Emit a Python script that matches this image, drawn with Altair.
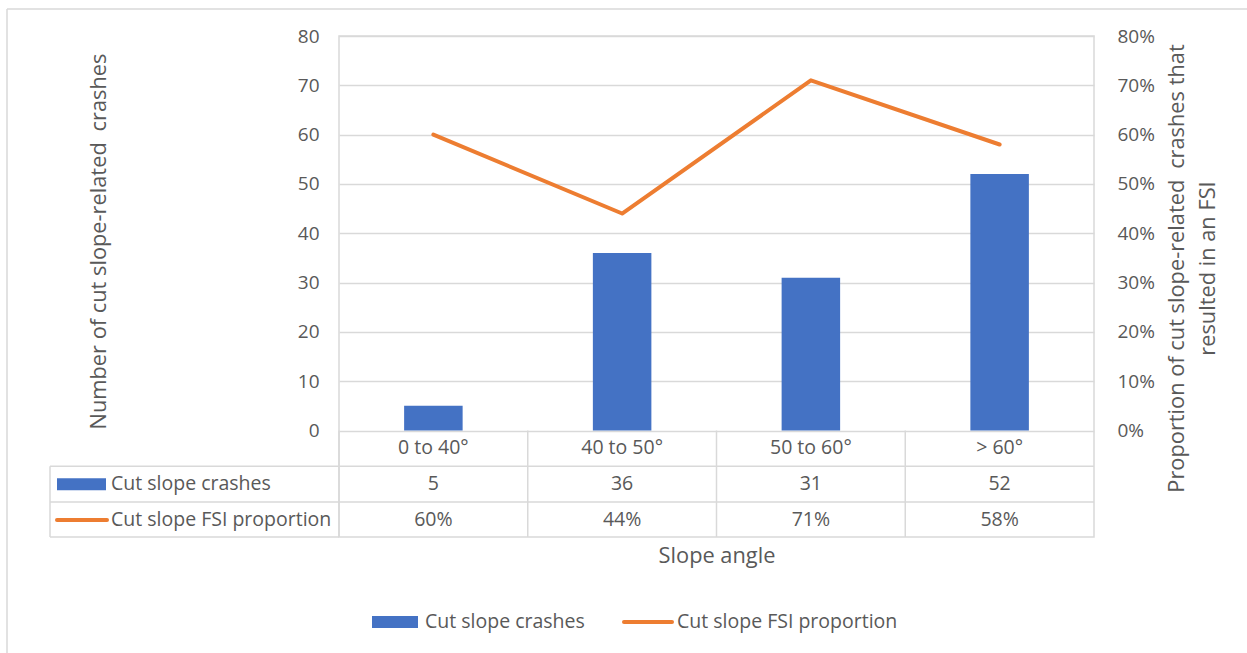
import altair as alt
import pandas as pd

# Chart values
CATEGORIES = ["0 to 40°", "40 to 50°", "50 to 60°", "> 60°"]
CRASHES = [5, 36, 31, 52]
FSI_PROPORTION = [0.60, 0.44, 0.71, 0.58]
SERIES_NAMES = ["Cut slope crashes", "Cut slope FSI proportion"]

FONT = "Open Sans"
TEXT = "#595959"
GRID = "#d9d9d9"
BLUE = "#4472c4"
ORANGE = "#ed7d31"
TITLE_SIZE = 21.8
BODY_SIZE = 19.5

# Plot-area geometry (the data table sits inside the lower part of the plot area)
W, H = 755, 501
ZERO_PX = 394.5            # distance of the zero line from the top of the plot area
ROW_H = 35.8               # height of one data-table row
COUNT_MAX = 80
COUNT_MIN = -COUNT_MAX * (H - ZERO_PX) / ZERO_PX
PCT_MAX = 0.8
PCT_MIN = COUNT_MIN / COUNT_MAX * PCT_MAX
LEFT_COL = -289            # left edge of the row-label column, relative to the plot area

df = pd.DataFrame({"angle": CATEGORIES, "crashes": CRASHES, "fsi": FSI_PROPORTION})
df["crash_label"] = df["crashes"].astype(str)
df["fsi_label"] = [f"{round(v * 100)}%" for v in FSI_PROPORTION]
one = pd.DataFrame({"k": [0]})

x_axis = alt.Axis(
    title="Slope angle", labels=False, ticks=False, domain=False, grid=False,
    titlePadding=8, titleFontSize=TITLE_SIZE, titleColor=TEXT, titleFont=FONT,
    titleFontWeight="normal",
)
x_scale = alt.Scale(paddingInner=0, paddingOuter=0)
x_enc = alt.X("angle:N", sort=CATEGORIES, scale=x_scale, axis=x_axis)

left_axis = alt.Axis(
    values=list(range(0, 81, 10)), title="Number of cut slope-related\u2002crashes",
    grid=True, gridColor=GRID, gridWidth=1.5, domain=False, ticks=False,
    labelPadding=20, labelFontSize=19, labelColor=TEXT, labelFont=FONT,
    titleFontSize=TITLE_SIZE, titleColor=TEXT, titleFont=FONT, titleFontWeight="normal",
    titleAngle=270, titleX=-241, titleY=205, titleBaseline="middle", titleAlign="center",
)

right_axis = alt.Axis(
    values=[i / 10 for i in range(0, 9)], format=".0%", orient="right",
    title=["Proportion of cut slope-related\u2002crashes that", "resulted in an FSI"],
    grid=False, domain=False, ticks=False,
    labelPadding=23, labelFontSize=19, labelColor=TEXT, labelFont=FONT,
    titleFontSize=TITLE_SIZE, titleColor=TEXT, titleFont=FONT, titleFontWeight="normal",
    titleAngle=270, titleX=72, titleY=232, titleBaseline="top", titleAlign="center",
    titleLineHeight=31,
)

base = alt.Chart(df)

bars = base.mark_bar(color=BLUE, width=alt.RelativeBandSize(0.31)).encode(
    x=x_enc,
    y=alt.Y("crashes:Q", scale=alt.Scale(domain=[COUNT_MIN, COUNT_MAX], nice=False, zero=False), axis=left_axis),
)

# Data table: category row, value rows and their grid
txt = dict(font=FONT, fontSize=BODY_SIZE, color=TEXT, baseline="middle")
cat_row = base.mark_text(**txt).encode(x=x_enc, y=alt.value(ZERO_PX + ROW_H / 2), text="angle:N")
crash_row = base.mark_text(**txt).encode(x=x_enc, y=alt.value(ZERO_PX + ROW_H * 1.5), text="crash_label:N")
fsi_row = base.mark_text(**txt).encode(x=x_enc, y=alt.value(ZERO_PX + ROW_H * 2.5), text="fsi_label:N")

sep = base.mark_rule(color=GRID, strokeWidth=1.5).encode(
    x=alt.X("angle:N", sort=CATEGORIES, bandPosition=0, scale=x_scale, axis=x_axis),
    y=alt.value(ZERO_PX), y2=alt.value(H),
)

def hline(y, x0, x1):
    return alt.Chart(one).mark_rule(color=GRID, strokeWidth=1.5).encode(
        x=alt.value(x0), x2=alt.value(x1), y=alt.value(y))

def vline(x, y0, y1, color=GRID, width=1.5):
    return alt.Chart(one).mark_rule(color=color, strokeWidth=width).encode(
        x=alt.value(x), y=alt.value(y0), y2=alt.value(y1))

table_lines = [
    hline(ZERO_PX + ROW_H, LEFT_COL, W),
    hline(ZERO_PX + ROW_H * 2, LEFT_COL, W),
    hline(H, LEFT_COL, 0),
    vline(LEFT_COL, ZERO_PX + ROW_H, H),
]

# Row labels with series keys
key_bar = alt.Chart(one).mark_rect(color=BLUE).encode(
    x=alt.value(-282), x2=alt.value(-233),
    y=alt.value(ZERO_PX + ROW_H * 1.5 - 6), y2=alt.value(ZERO_PX + ROW_H * 1.5 + 6))
key_line = alt.Chart(one).mark_rule(color=ORANGE, strokeWidth=4, strokeCap="round").encode(
    x=alt.value(-282), x2=alt.value(-232), y=alt.value(ZERO_PX + ROW_H * 2.5))
lab_txt = dict(font=FONT, fontSize=BODY_SIZE, color=TEXT, baseline="middle", align="left")
lab1 = alt.Chart(one).mark_text(text=SERIES_NAMES[0], **lab_txt).encode(
    x=alt.value(-228), y=alt.value(ZERO_PX + ROW_H * 1.5))
lab2 = alt.Chart(one).mark_text(text=SERIES_NAMES[1], **lab_txt).encode(
    x=alt.value(-228), y=alt.value(ZERO_PX + ROW_H * 2.5))

# Bottom legend
LEG_Y = 586
leg_bar = alt.Chart(one).mark_rect(color=BLUE).encode(
    x=alt.value(33), x2=alt.value(79), y=alt.value(LEG_Y - 6), y2=alt.value(LEG_Y + 6))
leg_lab1 = alt.Chart(one).mark_text(text=SERIES_NAMES[0], **lab_txt).encode(
    x=alt.value(86), y=alt.value(LEG_Y))
leg_line = alt.Chart(one).mark_rule(color=ORANGE, strokeWidth=4, strokeCap="round").encode(
    x=alt.value(285), x2=alt.value(333), y=alt.value(LEG_Y))
leg_lab2 = alt.Chart(one).mark_text(text=SERIES_NAMES[1], **lab_txt).encode(
    x=alt.value(338), y=alt.value(LEG_Y))

# Outer chart frame
frame = [
    hline(-27, -332, 960),
    vline(-332, -27, 700),
]

count_layer = alt.layer(
    bars, sep, *table_lines, cat_row, crash_row, fsi_row,
    key_bar, key_line, lab1, lab2, leg_bar, leg_lab1, leg_line, leg_lab2, *frame,
)

line = base.mark_line(color=ORANGE, strokeWidth=4, strokeCap="round", strokeJoin="round").encode(
    x=x_enc,
    y=alt.Y("fsi:Q", scale=alt.Scale(domain=[PCT_MIN, PCT_MAX], nice=False, zero=False), axis=right_axis),
)

chart = (
    alt.layer(count_layer, line)
    .resolve_scale(y="independent")
    .properties(
        width=W, height=H,
        padding={"left": 339, "top": 36, "right": 153, "bottom": 116},
        autosize=alt.AutoSizeParams(type="none"),
        background="white",
    )
    .configure_view(stroke=GRID, strokeWidth=1.5)
)

chart.save("out.html", embed_options={"renderer": "svg", "actions": False})
